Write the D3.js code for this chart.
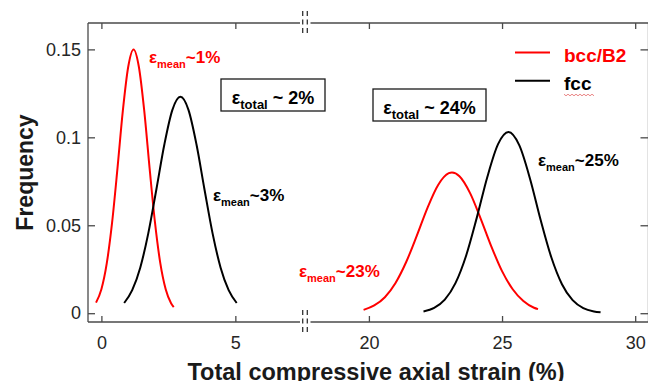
<!DOCTYPE html>
<html>
<head>
<meta charset="utf-8">
<script src="https://cdn.jsdelivr.net/npm/d3@7"></script>
<style>
  body { margin: 0; background: #fff; }
  svg { display: block; font-family: "Liberation Sans", Arial, sans-serif; }
</style>
</head>
<body>
<svg width="648" height="381"></svg>
<script>
// curves (strain %, frequency)
var bccLowX = [-0.2, 0, 0.2, 0.4, 0.6, 0.8, 1.0, 1.2, 1.4, 1.6, 1.8, 2.0, 2.2, 2.4, 2.6, 2.7];
var bccLowY = [0.006, 0.0136, 0.0283, 0.0516, 0.0823, 0.115, 0.140, 0.150, 0.140, 0.115, 0.0823, 0.0516, 0.0283, 0.0136, 0.0057, 0.0035];

var fccLowX = [0.85, 1.15, 1.45, 1.75, 2.05, 2.35, 2.65, 2.95, 3.25, 3.55, 3.85, 4.15, 4.45, 4.75, 5.05];
var fccLowY = [0.0058, 0.0131, 0.0259, 0.0454, 0.0702, 0.0959, 0.1156, 0.123, 0.1156, 0.0959, 0.0702, 0.0454, 0.0259, 0.0131, 0.0058];

var bccHighX = [19.8, 20.2, 20.6, 21.0, 21.4, 21.8, 22.2, 22.6, 23.0, 23.12, 23.4, 23.8, 24.2, 24.6, 25.0, 25.4, 25.8, 26.2, 26.35];
var bccHighY = [0.0019, 0.0044, 0.0091, 0.0172, 0.0291, 0.0441, 0.0599, 0.0729, 0.0796, 0.080, 0.0779, 0.0683, 0.0537, 0.0379, 0.0239, 0.0136, 0.0069, 0.0031, 0.0023];

var fccHighX = [22.05, 22.45, 22.85, 23.25, 23.65, 24.05, 24.45, 24.85, 25.24, 25.65, 26.05, 26.45, 26.85, 27.25, 27.65, 28.05, 28.45, 28.7];
var fccHighY = [0.001, 0.003, 0.0077, 0.0171, 0.0327, 0.0542, 0.0776, 0.0961, 0.103, 0.0954, 0.0765, 0.053, 0.0318, 0.0165, 0.0074, 0.0029, 0.001, 0.0005];

var xTicks = [0, 5, 20, 25, 30];
var yTicks = [0, 0.05, 0.1, 0.15];
var seriesNames = ["bcc/B2", "fcc"];
var seriesColors = ["#ff0000", "#000000"];

var plotLeft = 88, plotRight = 648.5, plotTop = 23, plotBottom = 322;
var breakLo = 7.6, breakHi = 17.6, breakPx = 305;

var svg = d3.select("svg");

// broken x axis: two linear pieces meeting at the break
var x = d3.scaleLinear()
  .domain([-0.5, breakLo, breakHi, 30.5])
  .range([plotLeft, breakPx, breakPx, plotRight]);

var y = d3.scaleLinear()
  .domain([-0.005, 0.165])
  .range([plotBottom, plotTop]);

var frame = "#4a4a4a";

// frame lines, with a gap at the break
[plotTop, plotBottom].forEach(function(yy) {
  svg.append("line").attr("x1", plotLeft).attr("x2", breakPx - 5).attr("y1", yy).attr("y2", yy)
    .attr("stroke", frame).attr("stroke-width", 1.3);
  svg.append("line").attr("x1", breakPx + 5.5).attr("x2", plotRight).attr("y1", yy).attr("y2", yy)
    .attr("stroke", frame).attr("stroke-width", 1.3);
  [-2.3, 2.3].forEach(function(dx) {
    svg.append("line").attr("x1", breakPx + dx).attr("x2", breakPx + dx)
      .attr("y1", yy - 12).attr("y2", yy + 12)
      .attr("stroke", "#333").attr("stroke-width", 1.3)
      .attr("stroke-dasharray", "5,3.5");
  });
});
svg.append("line").attr("x1", plotLeft).attr("x2", plotLeft).attr("y1", plotTop).attr("y2", plotBottom)
  .attr("stroke", frame).attr("stroke-width", 1.3);
svg.append("line").attr("x1", plotRight).attr("x2", plotRight).attr("y1", plotTop).attr("y2", plotBottom)
  .attr("stroke", frame).attr("stroke-width", 1.3);

function styleAxis(g) {
  g.select(".domain").remove();
  g.selectAll(".tick line").attr("stroke", frame).attr("stroke-width", 1.3);
  g.selectAll("text").attr("fill", "#262626").attr("font-size", "18px")
    .attr("font-family", "Liberation Sans, Arial, sans-serif");
}

svg.append("g")
  .attr("transform", "translate(0," + plotBottom + ")")
  .call(d3.axisBottom(x).tickValues(xTicks).tickSize(-6).tickPadding(14).tickFormat(d3.format("d")))
  .call(styleAxis);

svg.append("g")
  .attr("transform", "translate(0," + plotTop + ")")
  .call(d3.axisTop(x).tickValues(xTicks).tickSize(-6).tickFormat(""))
  .call(styleAxis);

svg.append("g")
  .attr("transform", "translate(" + plotLeft + ",0)")
  .call(d3.axisLeft(y).tickValues(yTicks).tickSize(-7).tickPadding(7).tickFormat(function(d) { return String(d); }))
  .call(styleAxis);

svg.append("g")
  .attr("transform", "translate(" + plotRight + ",0)")
  .call(d3.axisRight(y).tickValues(yTicks).tickSize(-8).tickFormat(""))
  .call(styleAxis);

// curves
var line = d3.line()
  .x(function(d) { return x(d[0]); })
  .y(function(d) { return y(d[1]); })
  .curve(d3.curveMonotoneX);

var curves = [
  [bccLowX, bccLowY, 0],
  [fccLowX, fccLowY, 1],
  [bccHighX, bccHighY, 0],
  [fccHighX, fccHighY, 1]
];
curves.forEach(function(c) {
  svg.append("path")
    .datum(d3.zip(c[0], c[1]))
    .attr("d", line)
    .attr("fill", "none")
    .attr("stroke", seriesColors[c[2]])
    .attr("stroke-width", 2);
});

// axis titles
svg.append("text")
  .attr("transform", "translate(33,172.5) rotate(-90)")
  .attr("text-anchor", "middle")
  .attr("font-weight", "bold")
  .attr("font-size", "23px")
  .attr("fill", "#1a1a1a")
  .text("Frequency");

svg.append("text")
  .attr("x", 376).attr("y", 379.5)
  .attr("text-anchor", "middle")
  .attr("font-weight", "bold")
  .attr("font-size", "23.5px")
  .attr("fill", "#1a1a1a")
  .text("Total compressive axial strain (%)");

// annotations: epsilon with subscript
function epsLabel(px, py, sub, rest, color, size, subSize, anchor) {
  var t = svg.append("text")
    .attr("x", px).attr("y", py)
    .attr("fill", color)
    .attr("font-weight", "bold")
    .attr("font-size", size + "px")
    .attr("text-anchor", anchor || "start");
  t.append("tspan").text("ε");
  t.append("tspan").attr("dy", size * 0.3).attr("font-size", subSize + "px").text(sub);
  t.append("tspan").attr("dy", -size * 0.3).text(rest);
  return t;
}

epsLabel(149, 63, "mean", "~1%", seriesColors[0], 17, 11);
epsLabel(213, 201, "mean", "~3%", seriesColors[1], 17, 11);
epsLabel(299, 276.5, "mean", "~23%", seriesColors[0], 17, 11);
epsLabel(538, 166, "mean", "~25%", seriesColors[1], 17, 11);

// boxed totals
svg.append("rect").attr("x", 221).attr("y", 79).attr("width", 104).attr("height", 32)
  .attr("fill", "#fff").attr("stroke", "#1a1a1a").attr("stroke-width", 1.3);
epsLabel(273, 103.5, "total", " ~ 2%", "#000", 18, 13, "middle");

svg.append("rect").attr("x", 373).attr("y", 89).attr("width", 113).attr("height", 32)
  .attr("fill", "#fff").attr("stroke", "#1a1a1a").attr("stroke-width", 1.3);
epsLabel(429.5, 113.5, "total", " ~ 24%", "#000", 18, 13, "middle");

// legend
var legendY = [52.5, 80.7];
seriesNames.forEach(function(name, i) {
  svg.append("line")
    .attr("x1", 515).attr("x2", 550)
    .attr("y1", legendY[i]).attr("y2", legendY[i])
    .attr("stroke", seriesColors[i]).attr("stroke-width", 2);
  svg.append("text")
    .attr("x", 564).attr("y", legendY[i] + 9)
    .attr("fill", seriesColors[i])
    .attr("font-weight", "bold")
    .attr("font-size", "19px")
    .text(name);
});

// the little spell-check squiggle under "fcc"
var squiggle = d3.range(0, 16).map(function(i) { return [564 + i * 2, 95 + (i % 2 ? 0.8 : -0.8)]; });
svg.append("path")
  .attr("d", d3.line()(squiggle))
  .attr("fill", "none")
  .attr("stroke", "#e05050")
  .attr("stroke-width", 0.7);
</script>
</body>
</html>
